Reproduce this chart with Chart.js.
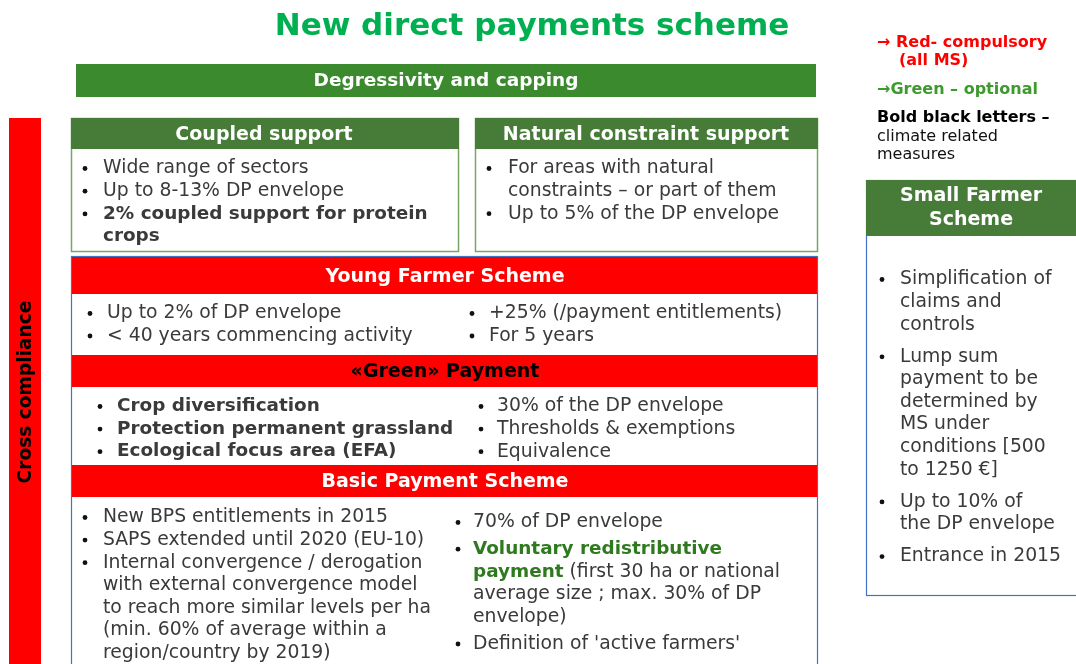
<!DOCTYPE html>
<html><head><meta charset="utf-8">
<script src="https://cdn.jsdelivr.net/npm/chart.js@4/dist/chart.umd.min.js"></script>
<style>html,body{margin:0;padding:0;background:#fff;overflow:hidden}canvas{display:block}</style>
</head><body>
<canvas id="c" width="1076" height="664"></canvas>
<script>
// ---------- content (text data) ----------
const title = "New direct payments scheme";
const topBar = "Degressivity and capping";
const sideLabel = "Cross compliance";
const legendLines = ["→ Red- compulsory", "(all MS)", "→Green – optional", "Bold black letters –", "climate related", "measures"];
const coupledTitle = "Coupled support";
const coupledItems = [["Wide range of sectors"], ["Up to 8-13% DP envelope"], ["**2% coupled support for protein", "**crops"]];
const naturalTitle = "Natural constraint support";
const naturalItems = [["For areas with natural", "constraints – or part of them"], ["Up to 5% of the DP envelope"]];
const youngTitle = "Young Farmer Scheme";
const youngLeft = [["Up to 2% of DP envelope"], ["< 40 years commencing activity"]];
const youngRight = [["+25% (/payment entitlements)"], ["For 5 years"]];
const greenTitle = "«Green» Payment";
const greenLeft = [["**Crop diversification"], ["**Protection permanent grassland"], ["**Ecological focus area (EFA)"]];
const greenRight = [["30% of the DP envelope"], ["Thresholds & exemptions"], ["Equivalence"]];
const basicTitle = "Basic Payment Scheme";
const basicLeft = [["New BPS entitlements in 2015"], ["SAPS extended until 2020 (EU-10)"],
  ["Internal convergence / derogation", "with external convergence model", "to reach more similar levels per ha", "(min. 60% of average within a", "region/country by 2019)"]];
const basicRight = [["70% of DP envelope"], ["^^Voluntary redistributive", "^^payment^^ (first 30 ha or national", "average size ; max. 30% of DP", "envelope)"], ["Definition of 'active farmers'"]];
const smallTitle = ["Small Farmer", "Scheme"];
const smallItems = [["Simplification of", "claims and", "controls"],
  ["Lump sum", "payment to be", "determined by", "MS under", "conditions [500", "to 1250 €]"],
  ["Up to 10% of", "the DP envelope"], ["Entrance in 2015"]];

// ---------- styles ----------
const FONT = '"DejaVu Sans", Verdana, sans-serif';
const BODY = 18.8, BOLDBODY = 18.4, HEAD = 19, DY = 1.5;
const C = { red:'#ff0000', title:'#00b050', bar:'#3b8a2e', head:'#477b38', lightGreen:'#76a665',
  blue:'#4472c4', text:'#3a3a3a', greenText:'#2f7a1f', legendGreen:'#3d9a2e' };

function parse(str){
  const parts = str.split(/(\*\*|\^\^)/); const out=[]; let st='n';
  for(const p of parts){
    if(p==='**'){ st = st==='b'?'n':'b'; continue; }
    if(p==='^^'){ st = st==='g'?'n':'g'; continue; }
    if(p) out.push({t:p, s:st});
  }
  return out;
}

const diagram = {
  id:'diagram',
  afterDraw(chart){
    const ctx = chart.ctx, xs = chart.scales.x, ys = chart.scales.y;
    const X = v => xs.getPixelForValue(v), Y = v => ys.getPixelForValue(v);
    const rect = (x0,y0,x1,y1,fill,stroke,lw) => {
      if(fill){ ctx.fillStyle=fill; ctx.fillRect(X(x0),Y(y0),X(x1)-X(x0),Y(y1)-Y(y0)); }
      if(stroke){ ctx.strokeStyle=stroke; ctx.lineWidth=lw||1; ctx.strokeRect(X(x0)+0.5,Y(y0)+0.5,X(x1)-X(x0)-1,Y(y1)-Y(y0)-1); }
    };
    const text = (t,x,y,size,color,bold,align) => {
      ctx.font = (bold?'bold ':'')+size+'px '+FONT; ctx.fillStyle=color;
      ctx.textAlign=align||'left'; ctx.textBaseline='middle'; ctx.fillText(t,X(x),Y(y)+DY);
    };
    const line = (str,x,y,color) => {
      let px = X(x);
      ctx.textAlign='left'; ctx.textBaseline='middle';
      for(const r of parse(str)){
        ctx.font = (r.s!=='n'?'bold '+BOLDBODY:BODY)+'px '+FONT;
        ctx.fillStyle = r.s==='g'?C.greenText:color;
        ctx.fillText(r.t,px,Y(y)+DY); px += ctx.measureText(r.t).width;
      }
    };
    const list = (items,o) => {
      let y=o.y;
      for(const it of items){
        ctx.fillStyle='#111'; ctx.beginPath(); ctx.arc(X(o.bx),Y(y)+1.5,2.4,0,Math.PI*2); ctx.fill();
        it.forEach((ln)=>{ line(ln,o.tx,y,C.text); y+=o.lh; });
        y += o.gap||0;
      }
    };
    ctx.save();
    // title
    text(title,532,25,31,C.title,true,'center');
    // degressivity bar
    rect(76,64,816,97,C.bar);
    text(topBar,446,80,18.5,'#fff',true,'center');
    // cross compliance
    rect(9,118,41,664,C.red);
    ctx.save(); ctx.translate(X(25)+DY,Y(392)); ctx.rotate(-Math.PI/2);
    ctx.font='bold 18.6px '+FONT; ctx.fillStyle='#000'; ctx.textAlign='center'; ctx.textBaseline='middle';
    ctx.fillText(sideLabel,0,0); ctx.restore();
    // coupled
    rect(71,118,459,252,'#fff',C.lightGreen,1.5);
    rect(71,118,459,149,C.head);
    text(coupledTitle,264,134,HEAD,'#fff',true,'center');
    list(coupledItems,{bx:85,tx:103,y:167,lh:22.7});
    // natural
    rect(475,118,818,252,'#fff',C.lightGreen,1.5);
    rect(475,118,818,149,C.head);
    text(naturalTitle,646,134,HEAD,'#fff',true,'center');
    list(naturalItems,{bx:489,tx:508,y:167,lh:22.6});
    // main box
    rect(71,256,818,670,'#fff',C.blue,1.2);
    rect(72,257,817,294,C.red); text(youngTitle,445,276,HEAD,'#fff',true,'center');
    list(youngLeft,{bx:90,tx:107,y:312,lh:22.5});
    list(youngRight,{bx:472,tx:489,y:312,lh:22.5});
    rect(72,355,817,387,C.red); text(greenTitle,445,371,HEAD,'#000',true,'center');
    list(greenLeft,{bx:100,tx:117,y:405,lh:22.6});
    list(greenRight,{bx:481,tx:497,y:405,lh:22.6});
    rect(72,465,817,497,C.red); text(basicTitle,445,481,HEAD,'#fff',true,'center');
    list(basicLeft,{bx:85,tx:103,y:516,lh:22.6});
    list(basicRight,{bx:458,tx:473,y:521,lh:22.7,gap:4});
    // small farmer
    rect(866,180,1080,596,'#fff',C.blue,1.2);
    rect(866,180,1080,236,C.head);
    text(smallTitle[0],971,195,HEAD,'#fff',true,'center');
    text(smallTitle[1],971,219,HEAD,'#fff',true,'center');
    list(smallItems,{bx:882,tx:900,y:278,lh:22.6,gap:9.5});
    // legend
    text(legendLines[0],877,41,16,C.red,true);
    text(legendLines[1],899,59,16,C.red,true);
    text(legendLines[2],877,88,16,C.legendGreen,true);
    text(legendLines[3],877,116,16,'#000',true);
    text(legendLines[4],877,135,16,'#111',false);
    text(legendLines[5],877,153,16,'#111',false);
    ctx.restore();
  }
};

new Chart(document.getElementById('c'), {
  type:'scatter',
  data:{ datasets:[{ data:[], pointRadius:0 }] },
  options:{
    responsive:false, animation:false, events:[],
    layout:{ padding:0 },
    plugins:{ legend:{display:false}, tooltip:{enabled:false} },
    scales:{
      x:{ type:'linear', min:0, max:1076, display:false },
      y:{ type:'linear', min:0, max:664, reverse:true, display:false }
    }
  },
  plugins:[diagram]
});
</script>
</body></html>
